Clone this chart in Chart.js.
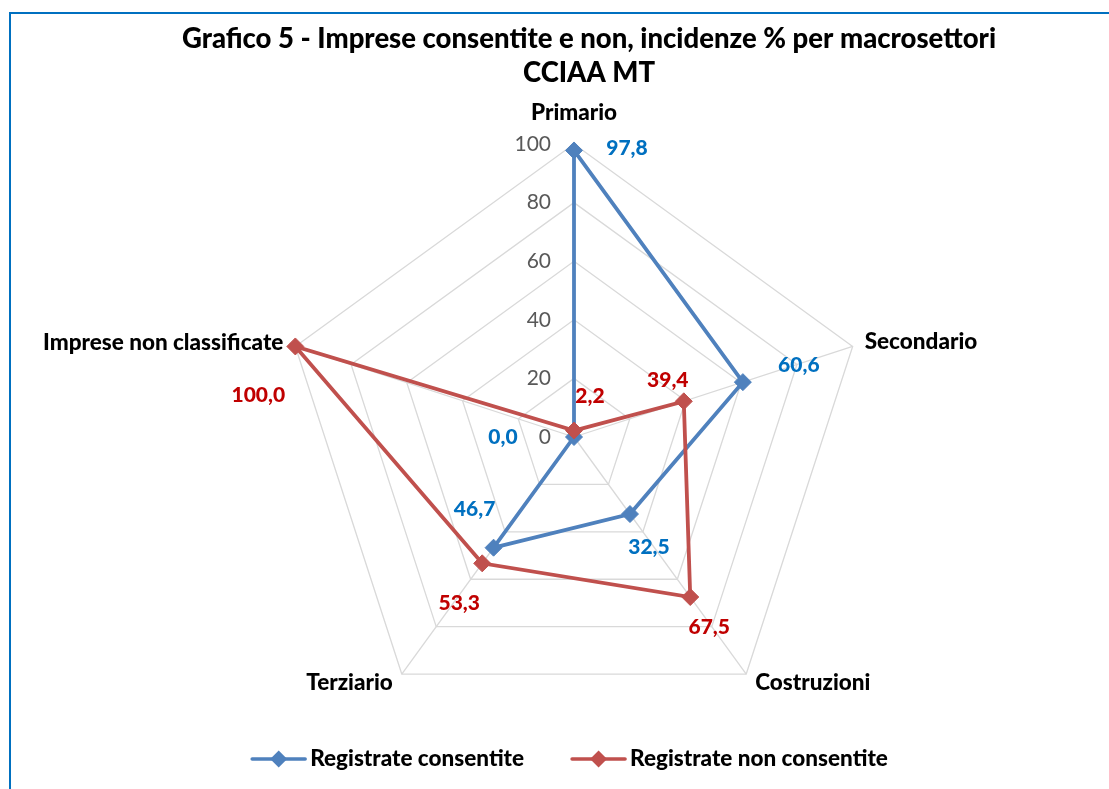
<!DOCTYPE html>
<html><head><meta charset="utf-8">
<script src="https://cdn.jsdelivr.net/npm/chart.js@4"></script>
<style>
html,body{margin:0;padding:0;background:#fff;overflow:hidden;}
#wrap{position:relative;width:1109px;height:789px;overflow:hidden;}
#frame{position:absolute;left:9px;top:12px;width:1300px;height:1000px;border:2px solid #0070C0;box-sizing:border-box;pointer-events:none}
canvas{position:absolute;left:0;top:0}
</style></head><body>
<div id="wrap"><canvas id="c" width="1109" height="789"></canvas><div id="frame"></div></div>
<script>
// ---- data ----
const categories = ['Primario', 'Secondario', 'Costruzioni', 'Terziario', 'Imprese non classificate'];
const seriesNames = ['Registrate consentite', 'Registrate non consentite'];
const consentite = [97.8, 60.6, 32.5, 46.7, 0.0];
const nonConsentite = [2.2, 39.4, 67.5, 53.3, 100.0];
const tickValues = [0, 20, 40, 60, 80, 100];
const titleLines = ['Grafico 5 - Imprese consentite e non, incidenze % per macrosettori', 'CCIAA MT'];

// ---- styles ----
const FONT = 'Lato, "Open Sans", sans-serif';
const BOLD = '900 ';
const seriesColors = ['#4F81BD', '#C0504D'];
const valueLabelColors = ['#0070C0', '#C00000'];
const valueLabelOffsets = [
  [[53, -2], [56, -17], [19, 33], [-19, -38], [-71, 0]],
  [[16, -34], [-16, -21], [19, 30], [-23, 40], [-37, 49]]
];
const pointLabelLayout = [
  {dx: 0, dy: -31, align: 'center'},
  {dx: 12, dy: -4.5, align: 'left'},
  {dx: 9, dy: 9, align: 'left'},
  {dx: -9, dy: 9, align: 'right'},
  {dx: -12, dy: -3.5, align: 'right'}
];

const fmt = v => v.toFixed(1).replace('.', ',');

const overlay = {
  id: 'overlay',
  afterDatasetsDraw(chart) {
    const ctx = chart.ctx;
    const r = chart.scales.r;
    ctx.save();
    // tick labels
    ctx.font = '21px ' + FONT;
    ctx.fillStyle = '#595959';
    ctx.textAlign = 'right';
    ctx.textBaseline = 'middle';
    tickValues.forEach(v => {
      const d = r.getDistanceFromCenterForValue(v);
      ctx.fillText(String(v), r.xCenter - 23, r.yCenter - d);
    });
    // point labels
    ctx.font = BOLD + '22.5px ' + FONT;
    ctx.fillStyle = '#000000';
    categories.forEach((c, i) => {
      const p = r.getPointPosition(i, r.drawingArea);
      const L = pointLabelLayout[i];
      ctx.textAlign = L.align;
      ctx.fillText(c, p.x + L.dx, p.y + L.dy);
    });
    // value labels
    ctx.font = BOLD + '21px ' + FONT;
    ctx.textAlign = 'center';
    chart.data.datasets.forEach((ds, di) => {
      const meta = chart.getDatasetMeta(di);
      ctx.fillStyle = valueLabelColors[di];
      meta.data.forEach((pt, i) => {
        const o = valueLabelOffsets[di][i];
        ctx.fillText(fmt(ds.data[i]), pt.x + o[0], pt.y + o[1]);
      });
    });
    ctx.restore();
  },
  afterDraw(chart) {
    const ctx = chart.ctx;
    ctx.save();
    // title
    ctx.font = BOLD + '27.5px ' + FONT;
    ctx.fillStyle = '#000000';
    ctx.textAlign = 'center';
    ctx.textBaseline = 'middle';
    ctx.fillText(titleLines[0], 589, 39);
    ctx.fillText(titleLines[1], 589, 73);
    // legend
    ctx.font = BOLD + '22.5px ' + FONT;
    const lineW = 53, gapText = 5, gapItems = 48;
    const widths = seriesNames.map(n => ctx.measureText(n).width);
    const total = widths.reduce((a, w) => a + lineW + gapText + w, 0) + gapItems * (seriesNames.length - 1);
    let x = 570 - total / 2;
    const y = 759;
    seriesNames.forEach((n, i) => {
      ctx.strokeStyle = seriesColors[i];
      ctx.lineWidth = 3.5;
      ctx.lineCap = 'round';
      ctx.beginPath(); ctx.moveTo(x, y); ctx.lineTo(x + lineW, y); ctx.stroke();
      const cx = x + lineW / 2, s = 8.5;
      ctx.fillStyle = seriesColors[i];
      ctx.beginPath(); ctx.moveTo(cx, y - s); ctx.lineTo(cx + s, y); ctx.lineTo(cx, y + s); ctx.lineTo(cx - s, y); ctx.closePath(); ctx.fill();
      ctx.fillStyle = '#000000';
      ctx.textAlign = 'left';
      ctx.textBaseline = 'middle';
      ctx.fillText(n, x + lineW + gapText, y);
      x += lineW + gapText + widths[i] + gapItems;
    });
    ctx.restore();
  }
};

const mkDs = (label, data, color, order) => ({
  label, data, order,
  borderColor: color, backgroundColor: color,
  borderWidth: 3.8, fill: false, tension: 0, clip: false,
  pointStyle: 'rectRot', pointRadius: 8.5, pointBorderWidth: 1,
  pointBackgroundColor: color, pointBorderColor: color, pointHoverRadius: 8.5
});

new Chart(document.getElementById('c'), {
  type: 'radar',
  data: {
    labels: categories,
    datasets: [
      mkDs(seriesNames[0], consentite, seriesColors[0], 1),
      mkDs(seriesNames[1], nonConsentite, seriesColors[1], 0)
    ]
  },
  options: {
    responsive: false,
    animation: false,
    layout: {padding: {top: 144, bottom: 59, left: 39, right: 0}},
    plugins: {legend: {display: false}, title: {display: false}, tooltip: {enabled: false}},
    scales: {
      r: {
        min: 0, max: 100,
        ticks: {stepSize: 20, display: false},
        grid: {color: '#D9D9D9', lineWidth: 1.3},
        angleLines: {color: '#D9D9D9', lineWidth: 1.3},
        pointLabels: {display: false}
      }
    }
  },
  plugins: [overlay]
});
</script>
</body></html>
